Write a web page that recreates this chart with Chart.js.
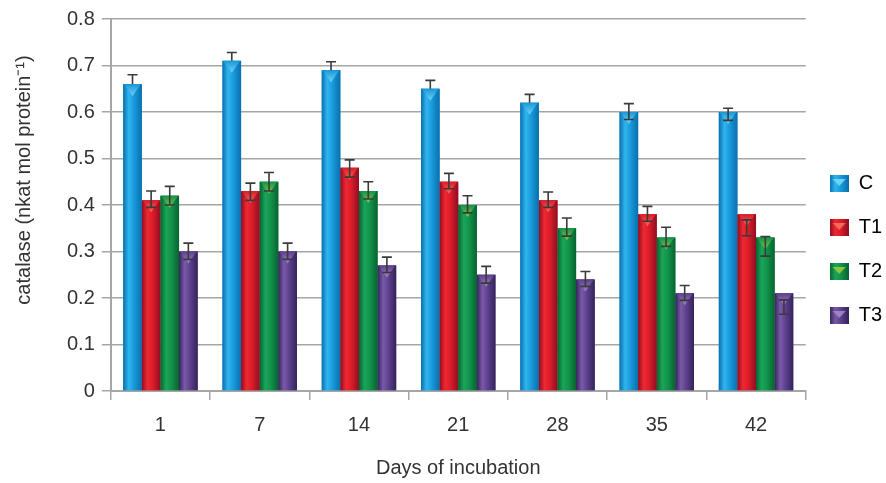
<!DOCTYPE html>
<html>
<head>
<meta charset="utf-8">
<script src="https://cdn.jsdelivr.net/npm/chart.js@4/dist/chart.umd.min.js"></script>
<style>
  html, body { margin: 0; padding: 0; background: #fff; }
  #wrap { width: 886px; height: 483px; }
</style>
</head>
<body>
<div id="wrap"><canvas id="chart"></canvas></div>
<script>
const days = ['1', '7', '14', '21', '28', '35', '42'];
const seriesNames = ['C', 'T1', 'T2', 'T3'];

const valC  = [0.66, 0.71, 0.69, 0.65, 0.62, 0.60, 0.60];
const valT1 = [0.41, 0.43, 0.48, 0.45, 0.41, 0.38, 0.38];
const valT2 = [0.42, 0.45, 0.43, 0.40, 0.35, 0.33, 0.33];
const valT3 = [0.30, 0.30, 0.27, 0.25, 0.24, 0.21, 0.21];

// whisker ends (high / low), null = not visible
const hiC  = [0.680, 0.728, 0.708, 0.668, 0.638, 0.618, 0.608];
const loC  = [null, null, null, null, null, 0.584, 0.582];
const hiT1 = [0.430, 0.447, 0.497, 0.468, 0.428, 0.397, 0.368];
const loT1 = [0.395, 0.410, 0.460, 0.435, 0.395, 0.365, 0.334];
const hiT2 = [0.440, 0.470, 0.450, 0.420, 0.372, 0.352, 0.332];
const loT2 = [0.400, 0.430, 0.413, 0.383, 0.333, 0.311, 0.290];
const hiT3 = [0.318, 0.318, 0.288, 0.268, 0.257, 0.227, 0.196];
const loT3 = [0.283, 0.283, 0.255, 0.232, 0.225, 0.195, 0.165];

const yTicks = [0, 0.1, 0.2, 0.3, 0.4, 0.5, 0.6, 0.7, 0.8];

// base, dark edge, light centre, triangle
const palette = [
    { base: '#1898d8', dark: '#0a6fae', light: '#30b5ef', tri: '#6fd3f7' },
    { base: '#d91c2a', dark: '#8e0e22', light: '#f02830', tri: '#f36a5a' },
    { base: '#12924a', dark: '#07632f', light: '#1aa55a', tri: '#8cc63f' },
    { base: '#5c3f8c', dark: '#33245a', light: '#7a5aa8', tri: '#9d84c4' }
];

const highs = [hiC, hiT1, hiT2, hiT3];
const lows = [loC, loT1, loT2, loT3];

// bevel shading + error bars drawn over the library's bar elements
const barStyle = {
    id: 'barStyle',
    afterDatasetsDraw(chart) {
        const ctx = chart.ctx;
        const yScale = chart.scales.y;
        chart.data.datasets.forEach((ds, di) => {
            const meta = chart.getDatasetMeta(di);
            const p = palette[di];
            meta.data.forEach((bar, i) => {
                const w = bar.width;
                const left = bar.x - w / 2;
                const top = bar.y;
                const h = bar.base - bar.y;
                const g = ctx.createLinearGradient(left, 0, left + w, 0);
                g.addColorStop(0, p.dark);
                g.addColorStop(0.3, p.light);
                g.addColorStop(0.6, p.base);
                g.addColorStop(1, p.dark);
                ctx.save();
                ctx.fillStyle = g;
                ctx.fillRect(left, top, w, h);
                // top triangle
                ctx.beginPath();
                ctx.moveTo(left + 1, top);
                ctx.lineTo(left + w - 1, top);
                ctx.lineTo(bar.x, top + Math.min(12, h));
                ctx.closePath();
                const tg = ctx.createLinearGradient(0, top, 0, top + 12);
                tg.addColorStop(0, p.base);
                tg.addColorStop(1, p.tri);
                ctx.fillStyle = tg;
                ctx.fill();
                ctx.restore();
            });
        });
        // error bars
        ctx.save();
        ctx.strokeStyle = '#3a3a3a';
        ctx.lineWidth = 1.6;
        chart.data.datasets.forEach((ds, di) => {
            const meta = chart.getDatasetMeta(di);
            meta.data.forEach((bar, i) => {
                const x = bar.x;
                const yh = yScale.getPixelForValue(highs[di][i]);
                const lo = lows[di][i];
                const yl = lo === null ? bar.y : yScale.getPixelForValue(lo);
                ctx.beginPath();
                ctx.moveTo(x, yh); ctx.lineTo(x, yl);
                ctx.moveTo(x - 5, yh); ctx.lineTo(x + 5, yh);
                if (lo !== null) {
                    ctx.moveTo(x - 5, yl); ctx.lineTo(x + 5, yl);
                }
                ctx.stroke();
            });
        });
        ctx.restore();
    }
};

const allVals = [valC, valT1, valT2, valT3];

const datasets = seriesNames.map((name, i) => ({
    label: name,
    data: allVals[i],
    backgroundColor: palette[i].base,
    borderWidth: 0,
    barPercentage: 1.0,
    categoryPercentage: 0.75
}));

const legendBox = (p) => {
    const c = document.createElement('canvas');
    c.width = 19; c.height = 17;
    const x = c.getContext('2d');
    const g = x.createLinearGradient(0, 0, 19, 0);
    g.addColorStop(0, p.dark);
    g.addColorStop(0.3, p.light);
    g.addColorStop(0.6, p.base);
    g.addColorStop(1, p.dark);
    x.fillStyle = g;
    x.fillRect(0, 0, 19, 17);
    x.beginPath();
    x.moveTo(3, 4); x.lineTo(16, 4); x.lineTo(9.5, 11);
    x.closePath();
    x.fillStyle = p.tri;
    x.fill();
    return c;
};

Chart.defaults.font.family = '"Liberation Sans", Arial, sans-serif';
Chart.defaults.color = '#333';

new Chart(document.getElementById('chart'), {
    type: 'bar',
    data: { labels: days, datasets: datasets },
    options: {
        responsive: true,
        maintainAspectRatio: false,
        animation: false,
        layout: { padding: { top: 19, right: -6, bottom: 3, left: 4 } },
        plugins: {
            legend: {
                position: 'right',
                labels: {
                    font: { size: 20 },
                    color: '#333',
                    boxWidth: 19,
                    boxHeight: 17,
                    padding: 24,
                    usePointStyle: true,
                    generateLabels(chart) {
                        return seriesNames.map((n, i) => ({
                            text: n,
                            pointStyle: legendBox(palette[i]),
                            fillStyle: palette[i].base,
                            strokeStyle: 'transparent',
                            lineWidth: 0,
                            datasetIndex: i
                        }));
                    }
                }
            },
            tooltip: { enabled: false }
        },
        scales: {
            x: {
                grid: {
                    display: true,
                    offset: true,
                    drawOnChartArea: false,
                    drawTicks: true,
                    tickLength: 9,
                    color: '#a6a6a6',
                    lineWidth: 1.5
                },
                border: { color: '#a6a6a6', width: 2 },
                ticks: { font: { size: 20 }, color: '#333', padding: 13 },
                title: {
                    display: true,
                    text: 'Days of incubation',
                    font: { size: 20 },
                    color: '#333',
                    padding: { top: 6, bottom: 0 }
                }
            },
            y: {
                min: 0,
                max: 0.8,
                afterBuildTicks(axis) {
                    axis.ticks = yTicks.map(v => ({ value: v }));
                },
                grid: {
                    color: '#a6a6a6',
                    lineWidth: 1.5,
                    tickLength: 9
                },
                border: { color: '#a6a6a6', width: 2 },
                ticks: {
                    font: { size: 20 },
                    color: '#333',
                    padding: 7,
                    callback: (v) => (v === 0 ? '0' : Number(v).toFixed(1))
                },
                title: {
                    display: true,
                    text: '         catalase (nkat mol protein\u207B\u00B9)',
                    font: { size: 20 },
                    color: '#333',
                    padding: { top: 8, bottom: 24 }
                }
            }
        }
    },
    plugins: [barStyle]
});
</script>
</body>
</html>
